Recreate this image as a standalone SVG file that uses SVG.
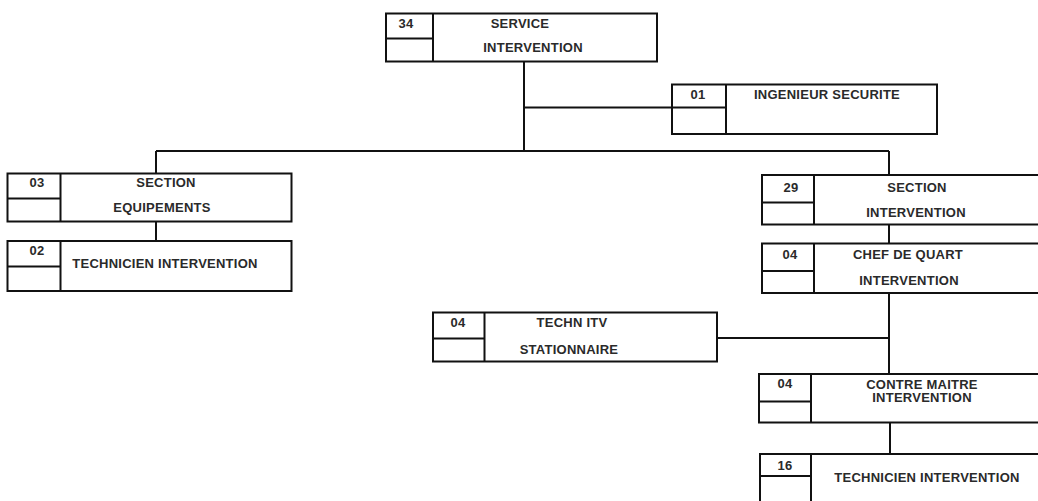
<svg xmlns="http://www.w3.org/2000/svg" width="1038" height="501" viewBox="0 0 1038 501">
<style>
.b{fill:#fff;stroke:#111;stroke-width:2}
.l{fill:none;stroke:#111;stroke-width:2}
text{font-family:"Liberation Sans",Arial,sans-serif;font-size:13px;letter-spacing:0.25px;font-weight:bold;fill:#2a2a2a;text-anchor:middle}
</style>
<rect width="1038" height="501" fill="#fff"/>
<g id="connectors">
<path class="l" d="M524 62V151M524 107.5H672M156 151H889M156 151V173M156 222V241M889 151V175M889 224V243M889 293V374M717 338H889M890 423V454"/>
</g>
<g id="n34">
<rect class="b" x="386" y="13.5" width="271" height="48"/>
<path class="l" d="M433 13.5V61.5M386 38.5H433"/>
<text x="406" y="28">34</text>
<text x="520" y="28">SERVICE</text>
<text x="533" y="51.5">INTERVENTION</text>
</g>
<g id="n01">
<rect class="b" x="672" y="84.5" width="265" height="49.5"/>
<path class="l" d="M726 84.5V134M672 107.5H726"/>
<text x="698" y="99">01</text>
<text x="827" y="99">INGENIEUR SECURITE</text>
</g>
<g id="n03">
<rect class="b" x="7.5" y="173.5" width="284" height="48"/>
<path class="l" d="M60.5 173.5V221.5M7.5 198.5H60.5"/>
<text x="37" y="187">03</text>
<text x="166" y="187">SECTION</text>
<text x="162" y="212">EQUIPEMENTS</text>
</g>
<g id="n02">
<rect class="b" x="7.5" y="241" width="284" height="50"/>
<path class="l" d="M60.5 241V291M7.5 266.5H60.5"/>
<text x="37" y="255">02</text>
<text x="165" y="268">TECHNICIEN INTERVENTION</text>
</g>
<g id="n29">
<rect class="b" x="762" y="175" width="290" height="49.5"/>
<path class="l" d="M814 175V224.5M762 202.5H814"/>
<text x="791" y="191.5">29</text>
<text x="917" y="191.5">SECTION</text>
<text x="916" y="216.5">INTERVENTION</text>
</g>
<g id="n04chef">
<rect class="b" x="762" y="243.5" width="290" height="49.5"/>
<path class="l" d="M814 243.5V293M762 271H814"/>
<text x="790" y="259">04</text>
<text x="908" y="259">CHEF DE QUART</text>
<text x="909" y="285">INTERVENTION</text>
</g>
<g id="n04itv">
<rect class="b" x="433" y="312.5" width="284" height="49"/>
<path class="l" d="M484.5 312.5V361.5M433 338.5H484.5"/>
<text x="458" y="327">04</text>
<text x="572" y="327">TECHN ITV</text>
<text x="569" y="353.5">STATIONNAIRE</text>
</g>
<g id="n04contre">
<rect class="b" x="759" y="374" width="293" height="48.5"/>
<path class="l" d="M811 374V422.5M759 401.5H811"/>
<text x="785" y="387.5">04</text>
<text x="922" y="388.5">CONTRE MAITRE</text>
<text x="922" y="402">INTERVENTION</text>
</g>
<g id="n16">
<rect class="b" x="760" y="454" width="292" height="60"/>
<path class="l" d="M811 454V514M760 476H811"/>
<text x="785" y="470">16</text>
<text x="927" y="482">TECHNICIEN INTERVENTION</text>
</g>
</svg>
